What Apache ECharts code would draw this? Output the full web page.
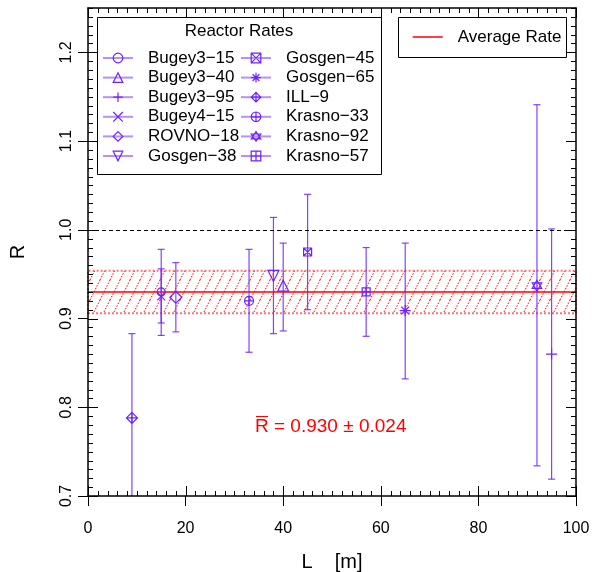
<!DOCTYPE html>
<html><head><meta charset="utf-8">
<script src="https://cdn.jsdelivr.net/npm/echarts@6/dist/echarts.min.js"></script>
<style>html,body{margin:0;padding:0;background:#fff}#c{width:592px;height:572px}</style>
</head><body><div id="c"></div>
<script>
// ---- data ----
const names = ['Bugey3−15','Bugey3−40','Bugey3−95','Bugey4−15','ROVNO−18','Gosgen−38',
               'Gosgen−45','Gosgen−65','ILL−9','Krasno−33','Krasno−92','Krasno−57'];
const baselines = [15, 40, 95, 15, 18, 38, 45, 65, 9, 33, 92, 57];
const ratios    = [0.930, 0.937, 0.860, 0.925, 0.924, 0.948, 0.975, 0.909, 0.788, 0.920, 0.937, 0.930];
const errLow    = [0.881, 0.886, 0.719, 0.895, 0.885, 0.883, 0.910, 0.832, 0.693, 0.862, 0.734, 0.880];
const errHigh   = [0.978, 0.985, 1.001, 0.956, 0.963, 1.014, 1.040, 0.985, 0.883, 0.978, 1.141, 0.980];
const avgR = 0.930;
const avgErr = 0.024;
const refR = 1.0;
const xTicks = [0, 20, 40, 60, 80, 100];
const yTicks = [0.7, 0.8, 0.9, 1.0, 1.1, 1.2];
const X_MIN = 0, X_MAX = 100, Y_MIN = 0.7, Y_MAX = 1.25;

// ---- styles ----
const FONT = '"Liberation Sans", Arial, sans-serif';
const PURPLE = '#6e22ff';
const P = 'path://';
const symbols = ['circle', 'triangle', P+'M5,0L5,10M0,5L10,5', P+'M0,0L10,10M10,0L0,10', 'diamond',
  P+'M0,0L10,0L5,10Z', P+'M0,0L10,0L10,10L0,10ZM0,0L10,10M10,0L0,10',
  P+'M5,0L5,10M0,5L10,5M1.5,1.5L8.5,8.5M8.5,1.5L1.5,8.5', P+'M5,0L10,5L5,10L0,5ZM5,0L5,10M0,5L10,5',
  P+'M0,5A5,5,0,1,1,10,5A5,5,0,1,1,0,5ZM5,0L5,10M0,5L10,5',
  P+'M5,0L9.33,7.5L0.67,7.5ZM5,10L0.67,2.5L9.33,2.5Z', P+'M0,0L10,0L10,10L0,10ZM5,0L5,10M0,5L10,5'];
const sizes = [8, 11, 11, 8, 12, 11, 8, 11, 11, 9, 11, 8];

// hatch pattern
const hatch = document.createElement('canvas');
hatch.width = 10; hatch.height = 20;
(function(){
  const g = hatch.getContext('2d');
  g.strokeStyle = '#ff0000'; g.lineWidth = 1; g.setLineDash([1.5, 1.5]);
  for (let k = -1; k <= 1; k++) {
    g.beginPath(); g.moveTo(k*10, 20); g.lineTo(k*10 + 10, 0); g.stroke();
  }
})();

const black = {color: '#000', width: 1.5};
const chart = echarts.init(document.getElementById('c'), null, {renderer: 'canvas'});

const series = [];
series.push({
  name: 'Average Rate', type: 'line', data: [[X_MIN, avgR], [X_MAX, avgR]], symbol: 'none',
  lineStyle: {color: '#ff0000', width: 1.5}, itemStyle: {color: '#ff0000'}, z: 3,
  emphasis: {disabled: true}, silent: true,
  markArea: {silent: true,
    itemStyle: {color: {image: hatch, repeat: 'repeat'}, borderColor: 'rgba(255,0,0,0.55)', borderWidth: 2, borderType: 'dotted'},
    data: [[{xAxis: X_MIN, yAxis: avgR - avgErr}, {xAxis: X_MAX, yAxis: avgR + avgErr}]]},
  markLine: {silent: true, symbol: 'none', label: {show: false},
    lineStyle: {color: '#000', type: [4, 3], width: 1}, data: [{yAxis: refR}]}
});
series.push({
  type: 'custom', z: 4, clip: true, silent: true,
  data: baselines.map((x, i) => [x, errLow[i], errHigh[i]]),
  renderItem: function (params, api) {
    const x = api.value(0), lo = api.value(1), hi = api.value(2);
    const a = api.coord([x, hi]), b = api.coord([x, lo]);
    const st = {stroke: PURPLE, lineWidth: 1.2, opacity: 0.85};
    return {type: 'group', children: [
      {type: 'line', shape: {x1: a[0], y1: a[1], x2: b[0], y2: b[1]}, style: st},
      {type: 'line', shape: {x1: a[0]-3.5, y1: a[1], x2: a[0]+3.5, y2: a[1]}, style: st},
      {type: 'line', shape: {x1: b[0]-3.5, y1: b[1], x2: b[0]+3.5, y2: b[1]}, style: st}
    ]};
  }
});
names.forEach((n, i) => {
  series.push({
    name: n, type: 'line', data: [[baselines[i], ratios[i]]], z: 5,
    symbol: symbols[i], symbolSize: sizes[i], symbolKeepAspect: true, showSymbol: true,
    itemStyle: {color: 'rgba(255,255,255,0)', borderColor: PURPLE, borderWidth: 1.2},
    lineStyle: {color: 'rgba(110,34,255,0.5)', width: 2},
    emphasis: {disabled: true}, silent: true
  });
});

const legendCommon = {orient: 'vertical', itemWidth: 30, itemHeight: 12, itemGap: 1.6, padding: 0, z: 100,
  selectedMode: false,
  itemStyle: {color: 'rgba(255,255,255,0)', borderColor: PURPLE, borderWidth: 1.2},
  textStyle: {fontSize: 17, lineHeight: 18, color: '#000', fontFamily: FONT, padding: [0, 0, 0, 10]}};

const baseGraphic = [
  {type: 'rect', z: 50, shape: {x: 97.5, y: 17.5, width: 284, height: 157},
   style: {fill: '#fff', stroke: '#000', lineWidth: 1}},
  {type: 'text', z: 51, x: 239, y: 31, style: {text: 'Reactor Rates', fontSize: 17, fontFamily: FONT,
   fill: '#000', align: 'center', verticalAlign: 'middle'}},
  {type: 'rect', z: 50, shape: {x: 398.5, y: 17.5, width: 168, height: 40},
   style: {fill: '#fff', stroke: '#000', lineWidth: 1}},
  {type: 'text', z: 51, x: 255, y: 427, style: {text: 'R = 0.930 ± 0.024', fontSize: 19, fontFamily: FONT,
   fill: '#ff0000', align: 'left', verticalAlign: 'middle'}},
  {type: 'line', z: 51, shape: {x1: 256, y1: 416.5, x2: 268, y2: 416.5}, style: {stroke: '#ff0000', lineWidth: 1}}
];

chart.setOption({
  animation: false,
  grid: {left: 88, right: 16, top: 8, bottom: 76, outerBoundsMode: 'none', containLabel: false},
  xAxis: [
    {type: 'value', min: X_MIN, max: X_MAX, interval: 20, position: 'bottom', z: 10,
      splitLine: {show: false},
      axisLine: {show: true, onZero: false, lineStyle: black},
      axisTick: {show: true, inside: false, length: 10, lineStyle: {color: '#000', width: 1}},
      axisLabel: {fontSize: 16, color: '#000', margin: 25, fontFamily: FONT, customValues: xTicks},
      name: 'L    [m]', nameLocation: 'middle', nameGap: 56,
      nameTextStyle: {fontSize: 20, color: '#000', fontFamily: FONT}},
    {type: 'value', min: X_MIN, max: X_MAX, interval: 20, position: 'top', z: 10,
      splitLine: {show: false}, axisTick: {show: false}, axisLabel: {show: false},
      axisLine: {show: true, onZero: false, lineStyle: black}}
  ],
  yAxis: [
    {type: 'value', min: Y_MIN, max: Y_MAX, interval: 0.05, position: 'left', z: 10,
      splitLine: {show: false},
      axisLine: {show: true, onZero: false, lineStyle: black},
      axisTick: {show: true, inside: false, length: 10, lineStyle: {color: '#000', width: 1}, customValues: yTicks},
      axisLabel: {fontSize: 16, color: '#000', margin: 13, rotate: 90, fontFamily: FONT,
        customValues: yTicks, formatter: v => Number(v).toFixed(1)},
      name: 'R', nameLocation: 'middle', nameGap: 60, nameRotate: 90,
      nameTextStyle: {fontSize: 20, color: '#000', fontFamily: FONT}},
    {type: 'value', min: Y_MIN, max: Y_MAX, interval: 0.05, position: 'right', z: 10,
      splitLine: {show: false}, axisTick: {show: false}, axisLabel: {show: false},
      axisLine: {show: true, onZero: false, lineStyle: black}}
  ],
  legend: [
    Object.assign({}, legendCommon, {left: 102, top: 49, data: names.slice(0, 6)}),
    Object.assign({}, legendCommon, {left: 240, top: 49, data: names.slice(6, 12)}),
    Object.assign({}, legendCommon, {left: 412, top: 28, data: ['Average Rate'],
      itemStyle: {opacity: 0}, lineStyle: {color: '#ff0000', width: 1.5}})
  ],
  graphic: baseGraphic,
  series: series
});

// inner tick marks on all four sides, placed through the grid's own scales
const tickEls = [];
const tk = {stroke: '#000', lineWidth: 1};
function px(x, y) { return chart.convertToPixel({gridIndex: 0}, [x, y]); }
for (let k = 0; k <= 50; k++) {
  const v = k * 2, len = (k % 10 === 0) ? 10 : 5;
  const b = px(v, Y_MIN), t = px(v, Y_MAX);
  tickEls.push({type: 'line', z: 40, silent: true, shape: {x1: Math.round(b[0]) + 0.5, y1: b[1], x2: Math.round(b[0]) + 0.5, y2: b[1] - len}, style: tk});
  tickEls.push({type: 'line', z: 40, silent: true, shape: {x1: Math.round(t[0]) + 0.5, y1: t[1], x2: Math.round(t[0]) + 0.5, y2: t[1] + len}, style: tk});
}
for (let k = 0; k <= 55; k++) {
  const v = 0.7 + k * 0.01, len = (k % 10 === 0) ? 10 : 5;
  const l = px(X_MIN, v), r = px(X_MAX, v);
  tickEls.push({type: 'line', z: 40, silent: true, shape: {x1: l[0], y1: Math.round(l[1]) + 0.5, x2: l[0] + len, y2: Math.round(l[1]) + 0.5}, style: tk});
  tickEls.push({type: 'line', z: 40, silent: true, shape: {x1: r[0], y1: Math.round(r[1]) + 0.5, x2: r[0] - len, y2: Math.round(r[1]) + 0.5}, style: tk});
}
chart.setOption({graphic: baseGraphic.concat(tickEls)});
</script></body></html>
